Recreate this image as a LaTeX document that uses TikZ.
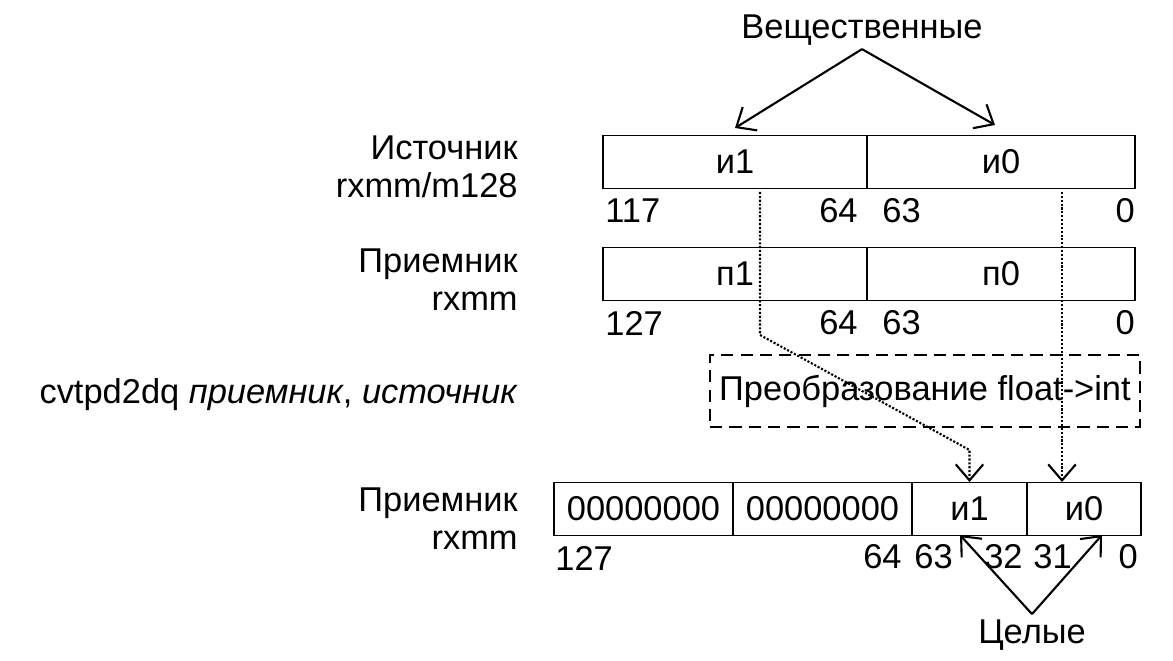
\documentclass[tikz,border=0pt]{standalone}
\usepackage{fontspec}
\setmainfont{Liberation Sans}
\usetikzlibrary{arrows.meta}
\begin{document}
\begin{tikzpicture}[font=\fontsize{19.6}{21.5}\selectfont,
    field/.style={draw, line width=0.6pt, minimum height=1.06cm, inner sep=0pt},
    bitno/.style={inner sep=0pt},
    regname/.style={anchor=east, align=right, inner sep=0pt},
    pointer/.style={line width=1.2pt, -{Straight Barb[length=0.32cm,width=0.55cm]}},
    copyline/.style={densely dotted, line width=1.2pt, -{Straight Barb[length=0.32cm,width=0.55cm]}}]
  \useasboundingbox (0,0) rectangle (23.46,13.22);
  % register names
  \node[regname] (srcname) at (10.36,9.89) {Источник\\rxmm/m128};
  \node[regname] (dstname) at (10.36,7.62) {Приемник\\rxmm};
  \node[regname] (cmd) at (10.36,5.32) {cvtpd2dq \textit{приемник}, \textit{источник}};
  \node[regname] (resname) at (10.36,2.84) {Приемник\\rxmm};
  % source
  \node[field, minimum width=5.28cm] (s1) at (14.70,9.98) {и1};
  \node[field, minimum width=5.36cm] (s0) at (20.02,9.98) {и0};
  \node[bitno, anchor=west] at (12.10,9.00) {117};
  \node[bitno, anchor=east] at (17.16,9.00) {64};
  \node[bitno, anchor=west] at (17.64,9.00) {63};
  \node[bitno, anchor=east] at (22.70,9.00) {0};
  % destination
  \node[field, minimum width=5.28cm] (d1) at (14.70,7.74) {п1};
  \node[field, minimum width=5.36cm] (d0) at (20.02,7.74) {п0};
  \node[bitno, anchor=west] at (12.10,6.76) {127};
  \node[bitno, anchor=east] at (17.16,6.76) {64};
  \node[bitno, anchor=west] at (17.64,6.76) {63};
  \node[bitno, anchor=east] at (22.70,6.76) {0};
  % conversion
  \node[draw, dashed, line width=1pt, dash pattern=on 7pt off 4pt,
    minimum width=8.6cm, minimum height=1.44cm, inner sep=0pt] (conv) at (18.50,5.40) {Преобразование float->int};
  % result
  \node[field, minimum width=3.58cm] (b3) at (12.87,3.04) {00000000};
  \node[field, minimum width=3.58cm] (b2) at (16.45,3.04) {00000000};
  \node[field, minimum width=2.30cm] (b1) at (19.39,3.04) {и1};
  \node[field, minimum width=2.28cm] (b0) at (21.68,3.04) {и0};
  \node[bitno, anchor=west] at (11.10,2.06) {127};
  \node[bitno, anchor=east] at (18.04,2.08) {64};
  \node[bitno, anchor=west] at (18.28,2.08) {63};
  \node[bitno, anchor=east] at (20.46,2.08) {32};
  \node[bitno, anchor=west] at (20.66,2.08) {31};
  \node[bitno, anchor=east] at (22.76,2.08) {0};
  % captions
  \node[inner sep=2pt] (real) at (17.24,12.62) {Вещественные};
  \node[inner sep=3pt] (ints) at (20.64,0.52) {Целые};
  \coordinate (vl) at (14.70,10.66);
  \coordinate (vr) at (19.90,10.72);
  \coordinate (cl) at (19.20,2.52);
  \coordinate (cr) at (22.04,2.52);
  \draw[pointer] (real.south) -- (vl);
  \draw[pointer] (real.south) -- (vr);
  \draw[pointer] (ints.north) -- (cl);
  \draw[pointer] (ints.north) -- (cr);
  % data paths
  \coordinate (i1top) at (15.20,9.38);
  \coordinate (i1bend) at (15.20,6.52);
  \coordinate (i1turn) at (19.39,4.22);
  \coordinate (i0top) at (21.24,9.38);
  \coordinate (i0end) at (21.24,3.58);
  \draw[copyline] (i1top) -- (i1bend) -- (i1turn) -- (b1.north);
  \draw[copyline] (i0top) -- (i0end);
\end{tikzpicture}
\end{document}
